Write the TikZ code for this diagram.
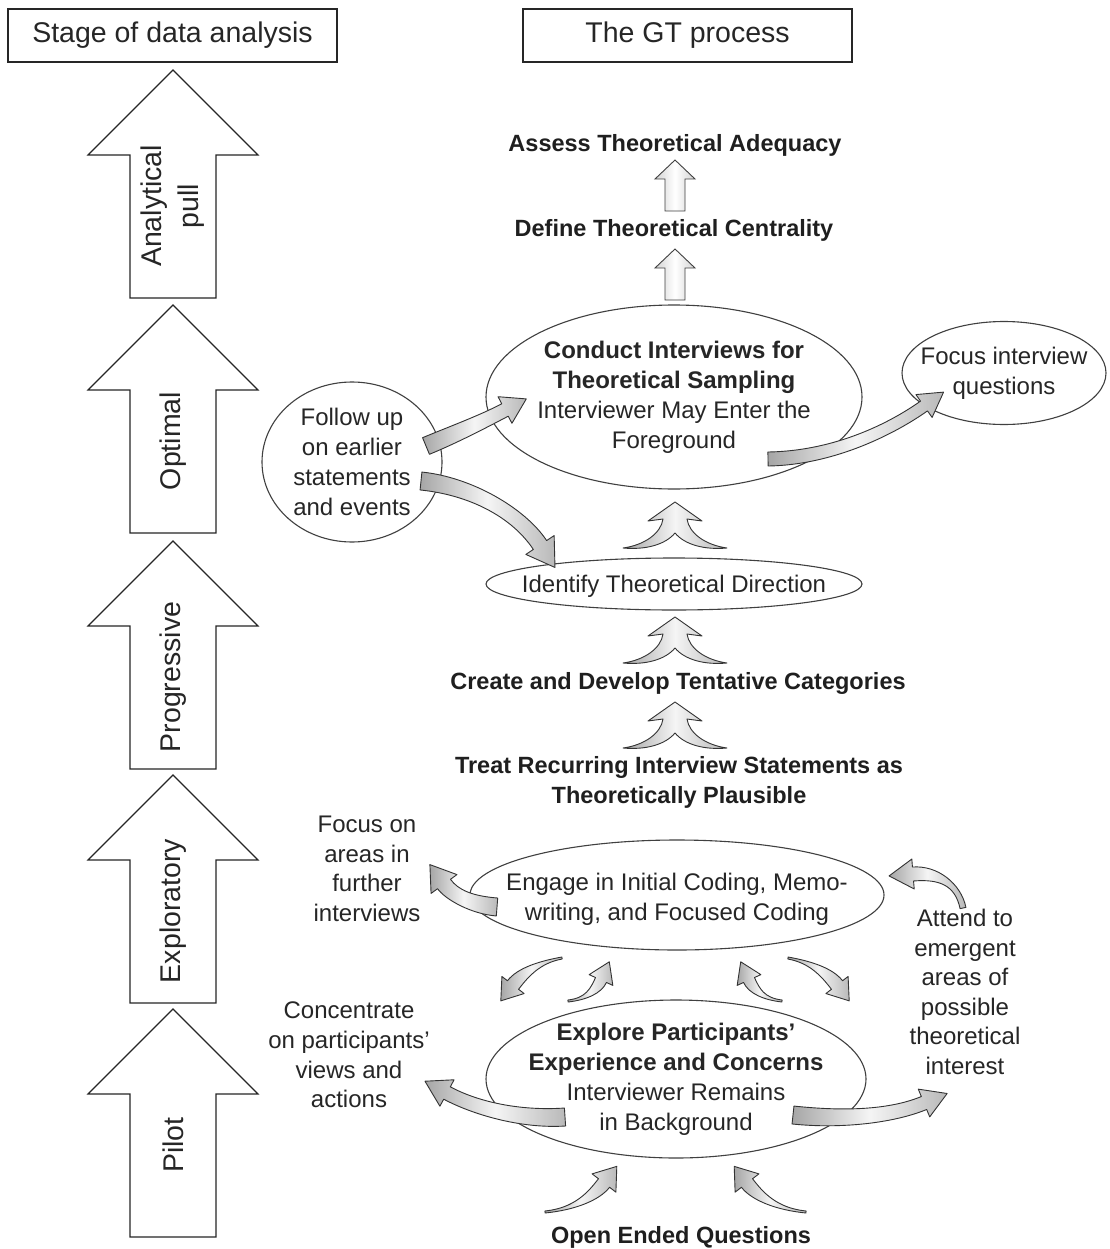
\documentclass[tikz,border=0pt]{standalone}
\usepackage{fontspec}
\setmainfont{Liberation Sans}
\usetikzlibrary{calc,shapes.geometric}

\tikzset{
  headbox/.style={draw=black!85, line width=1.4pt, fill=white, inner sep=0pt,
    minimum width=329pt, minimum height=53pt,
    font=\fontsize{28.5}{34}\selectfont, text=black!85},
  stageshape/.style={draw=black!85, line width=1.2pt, fill=white, line join=miter},
  stagelabel/.style={rotate=90, align=center, inner sep=0pt,
    font=\fontsize{28.5}{37}\selectfont, text=black!85},
  gtbold/.style={font=\bfseries\fontsize{23.5}{30}\selectfont, text=black!88, align=center, inner sep=0pt},
  gtplain/.style={font=\fontsize{24}{29.6}\selectfont, text=black!85, align=center, inner sep=0pt},
  bubble/.style={ellipse, draw=black!75, line width=1.1pt, fill=white, inner sep=0pt},
  bubbletext/.style={align=center, inner sep=0pt, font=\fontsize{24}{30}\selectfont, text=black!85},
  blockarrow/.style={draw=black!80, line width=0.9pt, line join=round,
    left color=gray!70, right color=gray!55, middle color=gray!8},
  uparrow/.style={draw=black!75, line width=0.9pt, line join=miter,
    left color=gray!35, right color=gray!35, middle color=white},
}

% big hollow arrow of the stage column: name, y of the tip, label
\newcommand{\stagearrow}[3]{%
  \draw[stageshape] (173,#2) -- (258,#2+85) -- (216,#2+85) -- (216,#2+228)
    -- (130,#2+228) -- (130,#2+85) -- (88,#2+85) -- cycle;
  \node[stagelabel] (#1) at (173,#2+136) {#3};
}

% small straight up arrow: name, x and y of the tip
\newcommand{\smallup}[3]{%
  \draw[uparrow] (#2,#3) coordinate (#1) -- (#2+20,#3+19) -- (#2+10,#3+19)
    -- (#2+10,#3+51) -- (#2-10,#3+51) -- (#2-10,#3+19) -- (#2-20,#3+19) -- cycle;
}

% merging two-stem arrow, apex at (x,y)
\newcommand{\treearrow}[3]{%
  \begin{scope}[shift={(#2,#3)}]
    \path[blockarrow] (0,0) coordinate (#1) -- (27,19) -- (12,17)
      .. controls (14,31) and (30,43) .. (52,46)
      .. controls (30,48) and (10,43) .. (0,31)
      .. controls (-10,43) and (-30,48) .. (-52,46)
      .. controls (-30,43) and (-14,31) .. (-12,17) -- (-27,19) -- cycle;
  \end{scope}
}

% curved block arrow: name, tail, control 1, control 2, head base,
% half width at tail, half width at head base, head half width, head length
\newcommand{\swoosh}[9]{%
  \coordinate (#1-a) at (#2);
  \coordinate (#1-b) at (#3);
  \coordinate (#1-c) at (#4);
  \coordinate (#1-d) at (#5);
  \path[blockarrow]
    ($(#1-a)!#6!90:(#1-b)$) .. controls ($(#1-b)!#6!-90:(#1-a)$) and ($(#1-c)!#7!90:(#1-d)$)
      .. ($(#1-d)!#7!-90:(#1-c)$)
    -- ($(#1-d)!#8!-90:(#1-c)$) -- ($(#1-d)!#9!180:(#1-c)$) -- ($(#1-d)!#8!90:(#1-c)$)
    -- ($(#1-d)!#7!90:(#1-c)$) .. controls ($(#1-c)!#7!-90:(#1-d)$) and ($(#1-b)!#6!90:(#1-a)$)
      .. ($(#1-a)!#6!-90:(#1-b)$) -- cycle;
}

\begin{document}
\begin{tikzpicture}[x=1pt,y=-1pt]
  \fill[white] (0,0) rectangle (1109,1249);
  \useasboundingbox (0,0) rectangle (1109,1249);

  % column headers
  \node[headbox] (stagehead) at (172.5,35.5) {Stage of data analysis};
  \node[headbox] (gthead) at (687.5,35.5) {The GT process};

  % stages of data analysis
  \stagearrow{analytical}{70}{Analytical\\pull}
  \stagearrow{optimal}{305}{Optimal}
  \stagearrow{progressive}{541}{Progressive}
  \stagearrow{exploratory}{775}{Exploratory}
  \stagearrow{pilot}{1009}{Pilot}

  % top of the GT process
  \node[gtbold] (assess) at (675,145) {Assess Theoretical Adequacy};
  \node[gtbold] (define) at (674,230) {Define Theoretical Centrality};
  \smallup{upA}{675}{160}
  \smallup{upB}{675}{249}

  % ellipses (outline first, text on top)
  \node[bubble, minimum width=376pt, minimum height=184pt] (conduct) at (674,397) {};
  \node[bubble, minimum width=180pt, minimum height=160pt] (follow) at (352,462) {};
  \node[bubble, minimum width=204pt, minimum height=103pt] (focusq) at (1004,373) {};
  \node[bubble, minimum width=376pt, minimum height=52pt] (identify) at (674,584) {};
  \node[bubble, minimum width=414pt, minimum height=110pt] (engage) at (677,895) {};
  \node[bubble, minimum width=380pt, minimum height=158pt] (explore) at (676,1079) {};

  \node[bubbletext] (conduct-t) at (conduct)
    {\textbf{Conduct Interviews for}\\\textbf{Theoretical Sampling}\\Interviewer May Enter the\\Foreground};
  \node[bubbletext] (follow-t) at (follow) {Follow up\\on earlier\\statements\\and events};
  \node[bubbletext] (focusq-t) at (focusq) {Focus interview\\questions};
  \node[bubbletext] (identify-t) at ([yshift=-2pt]identify.center) {Identify Theoretical Direction};
  \node[bubbletext] (engage-t) at ([yshift=-4pt]engage.center) {Engage in Initial Coding, Memo-\\writing, and Focused Coding};
  \node[bubbletext] (explore-t) at (explore)
    {\textbf{Explore Participants'}\\\textbf{Experience and Concerns}\\Interviewer Remains\\in Background};

  % labels without frames
  \node[gtbold] (create) at (678,683) {Create and Develop Tentative Categories};
  \node[gtbold] (treat) at (679,782) {Treat Recurring Interview Statements as\\Theoretically Plausible};
  \node[gtplain] (focusareas) at (367,869) {Focus on\\areas in\\further\\interviews};
  \node[gtplain] (attend) at (965,992) {Attend to\\emergent\\areas of\\possible\\theoretical\\interest};
  \node[gtplain] (concentrate) at (349,1055) {Concentrate\\on participants'\\views and\\actions};
  \node[gtbold] (openq) at (681,1237) {Open Ended Questions};

  % merging arrows
  \treearrow{treeA}{675}{502}
  \treearrow{treeB}{675}{617}
  \treearrow{treeC}{675}{702}

  % curved block arrows
  \swoosh{fuc}{426,446}{455,434}{482,422}{505,410}{9pt}{7pt}{15pt}{24pt}
  \swoosh{fui}{421,481}{470,486}{518,512}{540,545}{9pt}{8pt}{17pt}{27pt}
  \swoosh{cfq}{768,459}{835,458}{893,428}{924,406}{7pt}{6pt}{14pt}{24pt}
  \swoosh{efa}{497,907}{472,905}{452,895}{444,884}{9pt}{8pt}{16pt}{24pt}
  \swoosh{att}{963,908}{958,884}{938,872}{913,874}{3pt}{7pt}{15pt}{24pt}
  \swoosh{cnc}{565,1117}{520,1120}{475,1108}{447,1093}{9pt}{7pt}{15pt}{25pt}
  \swoosh{exr}{793,1115}{840,1120}{890,1117}{924,1103}{9pt}{7pt}{15pt}{25pt}
  \swoosh{oql}{545,1212}{575,1209}{594,1196}{604,1183}{1pt}{7pt}{15pt}{21pt}
  \swoosh{oqr}{806,1212}{776,1209}{757,1196}{747,1183}{1pt}{7pt}{15pt}{21pt}
  \swoosh{dwl}{562,958}{540,962}{523,972}{513,985}{1pt}{7pt}{14pt}{20pt}
  \swoosh{upl}{568,1001}{586,999}{596,991}{601,980}{1pt}{6pt}{13pt}{20pt}
  \swoosh{upr}{782,1001}{764,999}{754,991}{749,980}{1pt}{6pt}{13pt}{20pt}
  \swoosh{dwr}{788,958}{810,962}{827,972}{837,985}{1pt}{7pt}{14pt}{20pt}
\end{tikzpicture}
\end{document}
